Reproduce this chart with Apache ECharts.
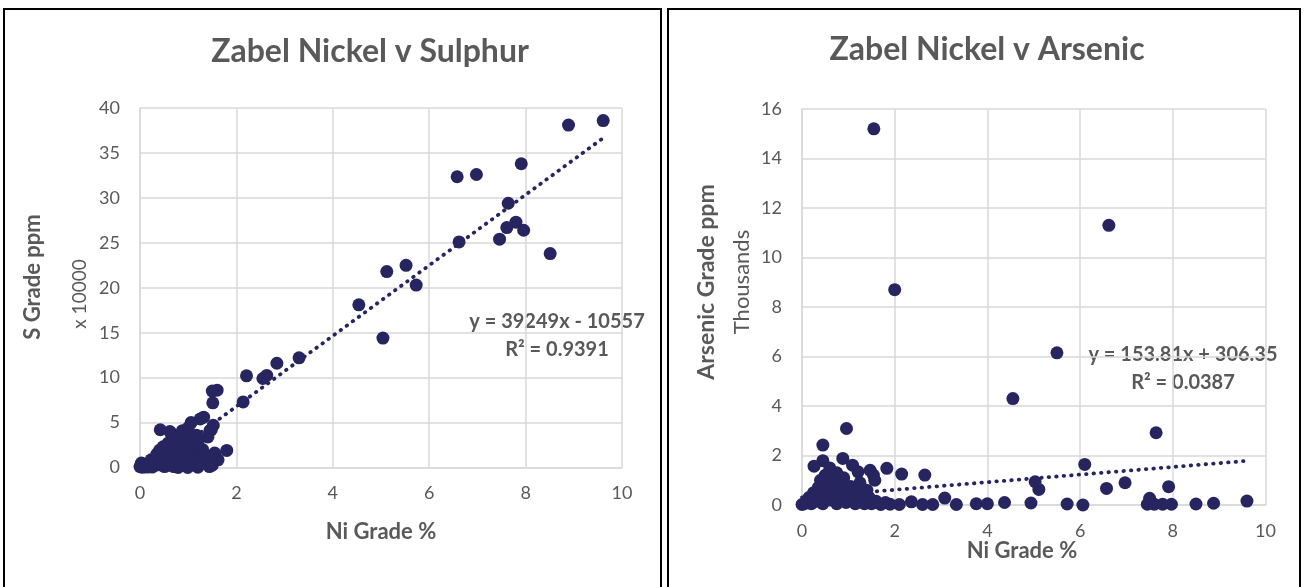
<!DOCTYPE html>
<html><head><meta charset="utf-8">
<script src="https://cdn.jsdelivr.net/npm/echarts@6/dist/echarts.min.js"></script>
<style>html,body{margin:0;padding:0;background:#fff}#c{width:1304px;height:587px}</style>
</head><body><div id="c"></div>
<script>
// ---- data (Ni grade %, S grade ppm x10000) ----
const sulphurPoints = [
  [9.61,38.6],[8.89,38.1],[7.91,33.8],[6.58,32.35],[6.98,32.6],[7.64,29.4],[6.62,25.1],[7.46,25.4],
  [7.61,26.7],[7.80,27.3],[7.96,26.4],[8.51,23.8],[4.54,18.1],[5.12,21.8],[5.52,22.5],[5.73,20.3],
  [5.04,14.4],[3.30,12.2],[2.84,11.6],[2.55,9.9],[2.63,10.25],[2.21,10.2],[2.14,7.3],[1.80,1.9],
  [1.60,8.6],[1.50,8.5],[1.51,7.2],[1.52,4.7],[1.45,4.1],[1.32,5.6],[1.25,5.4],[1.60,0.9],
  [1.06,5.0],[0.42,4.2],[0.65,3.8],[1.00,4.4],[1.48,4.2],[1.41,3.4],[1.17,3.6],[0.86,3.25],
  [0.58,2.7],[0.41,1.95],[0.79,2.1],[1.13,1.95],[1.55,1.6],[1.62,0.85],[1.34,0.5],[0.03,0.5],
  [0.00,0.1],[0.23,0.85],[0.44,1.2],[0.65,1.2],[0.17,0.3],[0.51,0.1],[0.79,0.0],[0.99,0.0],
  [1.20,0.03],[1.44,0.1],[0.93,0.5],[0.72,0.65],[0.10,0.15],[0.30,0.2],[0.35,0.6],[0.50,0.8],
  [0.55,1.6],[0.70,2.4],[0.80,1.5],[0.90,2.8],[1.00,1.0],[1.05,2.5],[1.10,0.3],[1.25,1.0],
  [1.30,2.0],[0.60,0.3],[0.85,0.2],[1.50,0.25],[0.25,0.05],[0.05,0.02],[0.15,0.05],[0.40,0.3],
  [0.70,0.1],[1.15,0.6],[0.95,1.7],[0.48,2.3],[0.35,1.5],[0.75,3.0],[1.20,2.8],[0.62,4.0],
  [0.88,4.1],[1.02,3.2],[1.38,1.2],[0.20,0.4]
];
// ---- data (Ni grade %, As grade ppm thousands) ----
const arsenicPoints = [
  [1.55,15.2],[2.00,8.7],[6.62,11.3],[5.50,6.15],[4.55,4.3],[7.64,2.92],[0.96,3.09],[0.45,2.42],
  [0.26,1.57],[0.45,1.79],[0.88,1.88],[1.09,1.61],[1.21,1.34],[1.54,1.21],[1.57,1.0],[1.83,1.48],
  [2.15,1.25],[2.65,1.21],[6.10,1.64],[5.03,0.94],[5.11,0.63],[6.57,0.67],[6.97,0.9],[7.91,0.74],
  [7.50,0.27],[9.60,0.16],[2.10,0.02],[2.36,0.13],[2.60,0.02],[2.82,0.02],[3.08,0.28],[3.33,0.02],
  [3.76,0.05],[4.00,0.05],[4.37,0.1],[4.94,0.08],[5.72,0.04],[6.06,0.0],[7.45,0.03],[7.60,0.03],
  [7.78,0.03],[7.97,0.03],[8.50,0.04],[8.88,0.07],
  [0.00,0.02],[0.05,0.05],[0.10,0.1],[0.15,0.3],[0.20,0.05],[0.25,0.5],[0.30,0.15],[0.35,0.7],
  [0.40,0.3],[0.45,0.05],[0.50,0.6],[0.55,0.9],[0.60,0.2],[0.65,1.0],[0.70,0.45],[0.75,0.05],
  [0.80,0.8],[0.85,0.3],[0.90,0.55],[0.95,0.1],[1.00,0.4],[1.05,0.75],[1.10,0.2],[1.15,0.05],
  [1.20,0.5],[1.25,0.9],[1.30,0.15],[1.35,0.05],[1.40,0.6],[1.45,0.3],[1.50,0.05],[1.60,0.15],
  [1.70,0.02],[1.80,0.1],[1.90,0.03],[0.60,0.7],[0.30,0.4],[0.75,0.6],[0.60,1.5],[0.50,1.2],
  [0.75,1.3],[0.40,1.0],[0.90,1.1],[1.47,1.4]
];
// trendline equations as printed on the chart (in plotted units)
const sTrend = { slope: 3.9249, intercept: -1.0557, eq: 'y = 39249x - 10557', r2: 'R² = 0.9391' };
const asTrend = { slope: 0.15381, intercept: 0.30635, eq: 'y = 153.81x + 306.35', r2: 'R² = 0.0387' };
const titles = ['Zabel Nickel v Sulphur', 'Zabel Nickel v Arsenic'];
const xAxisTitle = 'Ni Grade %';
const yTitles = ['S Grade ppm', 'Arsenic Grade ppm'];
const yUnits = ['x 10000', 'Thousands'];

function trendLine(points, t, ymin) {
  const xs = points.map(p => p[0]);
  let x0 = Math.min(...xs), x1 = Math.max(...xs);
  if (t.slope * x0 + t.intercept < ymin) x0 = (ymin - t.intercept) / t.slope;
  return [[x0, t.slope * x0 + t.intercept], [x1, t.slope * x1 + t.intercept]];
}

const FONT = 'Lato, "Open Sans", sans-serif';
const GRAY = '#595959';
const GRID = '#d9d9d9';
const DOT = '#27255f';

function xAx(gi) {
  return {
    gridIndex: gi, type: 'value', min: 0, max: 10, interval: 2,
    axisLine: { show: true, lineStyle: { color: GRID, width: 1.5 } },
    axisTick: { show: false },
    splitLine: { show: true, lineStyle: { color: GRID, width: 1.5 } },
    axisLabel: { fontSize: 18, color: GRAY, fontFamily: FONT, margin: 17 }
  };
}
function yAx(gi, max, interval) {
  return {
    gridIndex: gi, type: 'value', min: 0, max: max, interval: interval,
    axisLine: { show: true, lineStyle: { color: GRID, width: 1.5 } },
    axisTick: { show: false },
    splitLine: { show: true, lineStyle: { color: GRID, width: 1.5 } },
    axisLabel: { fontSize: 18, color: GRAY, fontFamily: FONT, margin: 20 }
  };
}
function txt(x, y, text, size, bold, rot) {
  return {
    type: 'text', x: x, y: y, rotation: rot || 0, silent: true,
    style: { text: text, fill: GRAY, font: (bold ? 'bold ' : '') + size + 'px ' + FONT,
             textAlign: 'center', textVerticalAlign: 'middle' }
  };
}

const chart = echarts.init(document.getElementById('c'));
chart.setOption({
  animation: false,
  grid: [
    { left: 140, top: 108, width: 482, height: 359.5 },
    { left: 802, top: 109, width: 463.5, height: 396 }
  ],
  xAxis: [xAx(0), xAx(1)],
  yAxis: [yAx(0, 40, 5), yAx(1, 16, 2)],
  series: [
    { type: 'scatter', xAxisIndex: 0, yAxisIndex: 0, data: sulphurPoints, symbolSize: 13,
      itemStyle: { color: DOT, opacity: 1 }, silent: true },
    { type: 'line', xAxisIndex: 0, yAxisIndex: 0, data: trendLine(sulphurPoints, sTrend, 0),
      showSymbol: false, silent: true, z: 3,
      lineStyle: { color: DOT, width: 3.8, type: [0.5, 7], cap: 'round' } },
    { type: 'scatter', xAxisIndex: 1, yAxisIndex: 1, data: arsenicPoints, symbolSize: 13,
      itemStyle: { color: DOT, opacity: 1 }, silent: true },
    { type: 'line', xAxisIndex: 1, yAxisIndex: 1, data: trendLine(arsenicPoints, asTrend, 0),
      showSymbol: false, silent: true, z: 3,
      lineStyle: { color: DOT, width: 3.8, type: [0.5, 7], cap: 'round' } }
  ],
  graphic: [
    { type: 'rect', shape: { x: 4, y: 9, width: 657, height: 600 }, silent: true,
      style: { fill: 'none', stroke: '#000', lineWidth: 2 } },
    { type: 'rect', shape: { x: 668, y: 9, width: 632, height: 600 }, silent: true,
      style: { fill: 'none', stroke: '#000', lineWidth: 2 } },
    txt(370, 52, titles[0], 32, true),
    txt(987, 50, titles[1], 32, true),
    txt(381, 532, xAxisTitle, 22, true),
    txt(1022, 551, xAxisTitle, 22, true),
    txt(33, 277, yTitles[0], 22, true, Math.PI / 2),
    txt(80, 294, yUnits[0], 19, false, Math.PI / 2),
    txt(707, 282, yTitles[1], 23, true, Math.PI / 2),
    txt(742, 282, yUnits[1], 22, false, Math.PI / 2),
    txt(557, 322, sTrend.eq, 20, true),
    txt(557, 350, sTrend.r2, 20, true),
    txt(1183, 355, asTrend.eq, 20, true),
    txt(1183, 383, asTrend.r2, 20, true)
  ]
});
</script></body></html>
